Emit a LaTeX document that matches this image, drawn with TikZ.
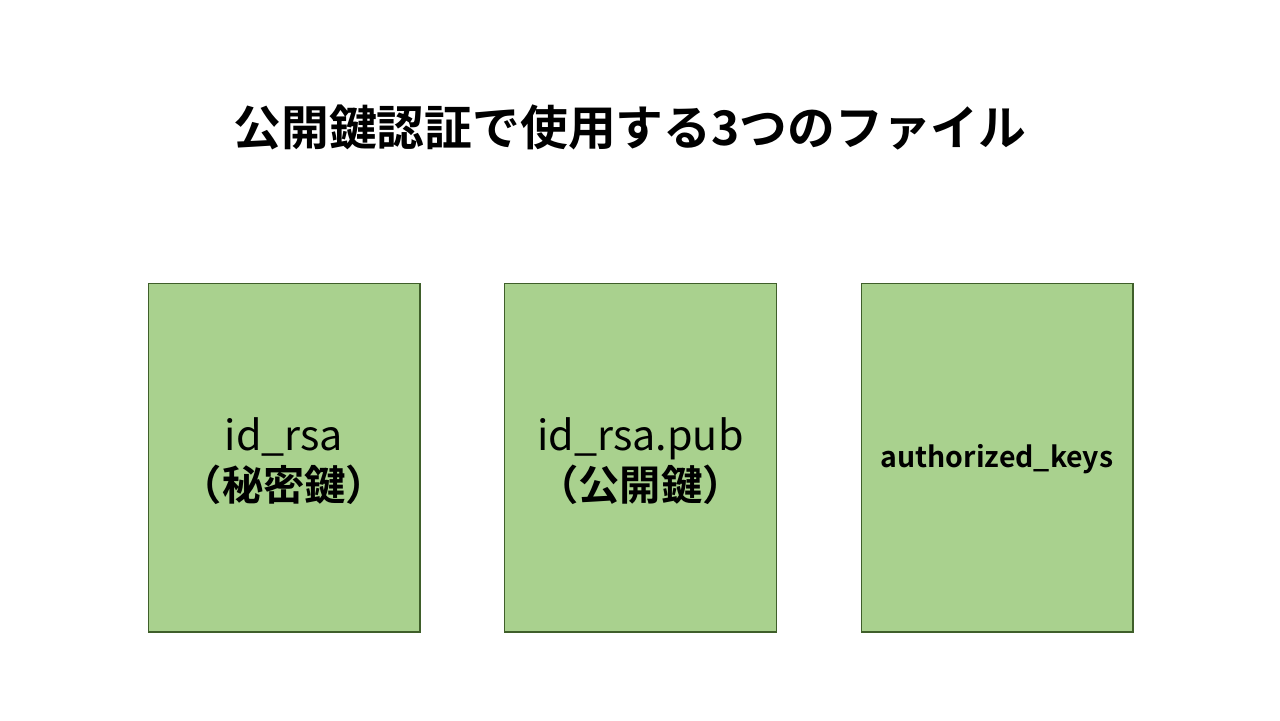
\documentclass[tikz,border=0pt]{standalone}
\usepackage{fontspec}
\setmainfont{Noto Sans CJK JP}[BoldFont={Noto Sans CJK JP Bold}]
\usepackage{tikz}

\begin{document}
\begin{tikzpicture}[x=0.02cm, y=-0.02cm,
	filebox/.style={draw=boxline, fill=boxfill, line width=0.6pt, minimum width=5.44cm, minimum height=6.98cm, inner sep=0pt},
	filelabel/.style={font=\fontsize{23.5}{28.5}\selectfont, align=center}]
					\definecolor{boxfill}{HTML}{A9D18E}
					\definecolor{boxline}{HTML}{3F5F2A}
					\useasboundingbox (0,0) rectangle (1280,720);

					\node (title) at (630,127) {\fontsize{27.2}{32}\selectfont\bfseries 公開鍵認証で使用する3つのファイル}; % Title.

					\node[filebox] (priv) at (284,457.5) {};
					\node[filebox] (pub) at (640.5,457.5) {};
					\node[filebox] (auth) at (997,457.5) {};

					\node[filelabel] (privtext) at (284,461) {id\_rsa\\\textbf{（秘密鍵）}};
					\node[filelabel] (pubtext) at (640.5,461) {id\_rsa.pub\\\textbf{（公開鍵）}};
					\node[font=\fontsize{16.2}{20}\selectfont\bfseries] (authtext) at (997,459) {authorized\_keys};
				\end{tikzpicture}
\end{document}
